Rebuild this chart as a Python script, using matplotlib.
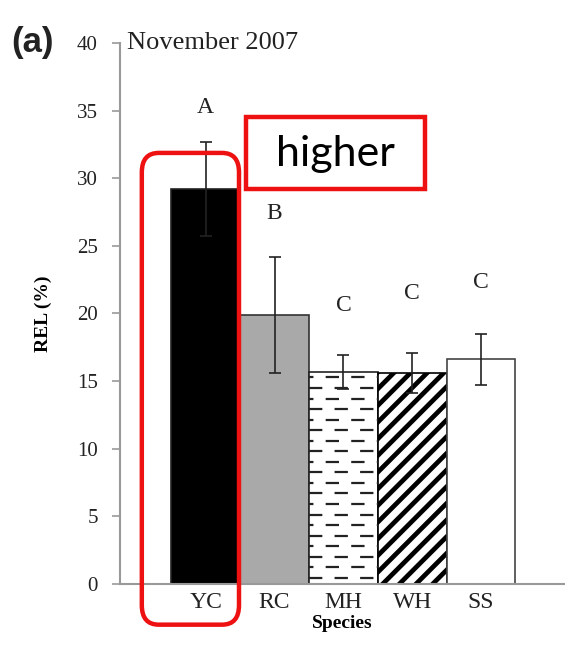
import numpy as np
import matplotlib
matplotlib.use("Agg")
import matplotlib.pyplot as plt
from matplotlib.patches import FancyBboxPatch

# data
species = ["YC", "RC", "MH", "WH", "SS"]
rel = [29.2, 19.9, 15.7, 15.6, 16.6]
err = [3.5, 4.3, 1.25, 1.5, 1.9]
letters = ["A", "B", "C", "C", "C"]
letter_y = [35.2, 27.4, 20.6, 21.5, 22.3]

plt.rcParams["hatch.linewidth"] = 3.4
serif = "Liberation Serif"

fig = plt.figure(figsize=(5.65, 6.48), dpi=100)
ax = fig.add_axes([0.2124, 0.0988, 0.7876, 0.8349])

x = np.arange(len(species))
faces = ["black", "#a9a9a9", "white", "white", "white"]
edges = ["#222222", "#333333", "#222222", "black", "#444444"]
bars = ax.bar(x, rel, width=1.0, color=faces, edgecolor=edges,
              linewidth=1.2, zorder=2)
bars[3].set_hatch("//")

# dashed horizontal fill for MH
mh = bars[2]
ys = np.arange(0.45, mh.get_height(), 0.78)
for i, yy in enumerate(ys):
    ln = ax.hlines(yy, mh.get_x(), mh.get_x() + mh.get_width(), colors="#222222",
                   linewidth=1.6, linestyles=(4 if i % 2 else 0, (6, 5.5)), zorder=3)
    ln.set_clip_path(mh)

ax.errorbar(x, rel, yerr=err, fmt="none", ecolor="#222222", elinewidth=1.2,
            capsize=4.5, capthick=1.2, zorder=4)

for xi, lt, ly in zip(x, letters, letter_y):
    ax.text(xi, ly, lt, ha="center", va="center", fontsize=17, family=serif,
            color="#222222")

ax.set_ylim(0, 40)
ax.set_xlim(-1.246, 5.22)
ax.set_yticks(range(0, 41, 5))
ax.set_xticks(x)
ax.set_xticklabels(species)
for s in ["top", "right"]:
    ax.spines[s].set_visible(False)
for s in ["left", "bottom"]:
    ax.spines[s].set_color("#999999")
    ax.spines[s].set_linewidth(1.5)
ax.tick_params(axis="y", length=6, width=1.2, color="#999999", pad=10,
               labelsize=15, labelfontfamily=serif, labelcolor="#222222")
ax.tick_params(axis="x", length=0, pad=6, labelsize=17, labelfontfamily=serif,
               labelcolor="#222222")

ax.set_xlabel("Species", fontsize=14, fontweight="bold", family=serif, labelpad=1)
ax.set_ylabel("REL (%)", fontsize=14, fontweight="bold", family=serif, labelpad=18)

ax.text(0.015, 1.0, "November 2007", transform=ax.transAxes, ha="left", va="center",
        fontsize=19, family=serif, color="#222222")
fig.text(0.02, 0.935, "(a)", fontsize=25, fontweight="bold", family="Liberation Sans",
         ha="left", va="center", color="#222222")

# red highlight annotations
fig.patches.append(FancyBboxPatch((0.251, 0.036), 0.172, 0.728,
                                  boxstyle="round,pad=0,rounding_size=0.03",
                                  transform=fig.transFigure, facecolor="none",
                                  edgecolor="#ee1111", linewidth=3.2, zorder=10))
fig.patches.append(FancyBboxPatch((0.4354, 0.709), 0.3168, 0.111,
                                  boxstyle="square,pad=0",
                                  transform=fig.transFigure, facecolor="white",
                                  edgecolor="#ee1111", linewidth=3.2, zorder=10))
fig.text(0.594, 0.763, "higher", fontsize=31, family="Lato", ha="center",
         va="center", zorder=11)

fig.savefig("out.png", dpi=100)
